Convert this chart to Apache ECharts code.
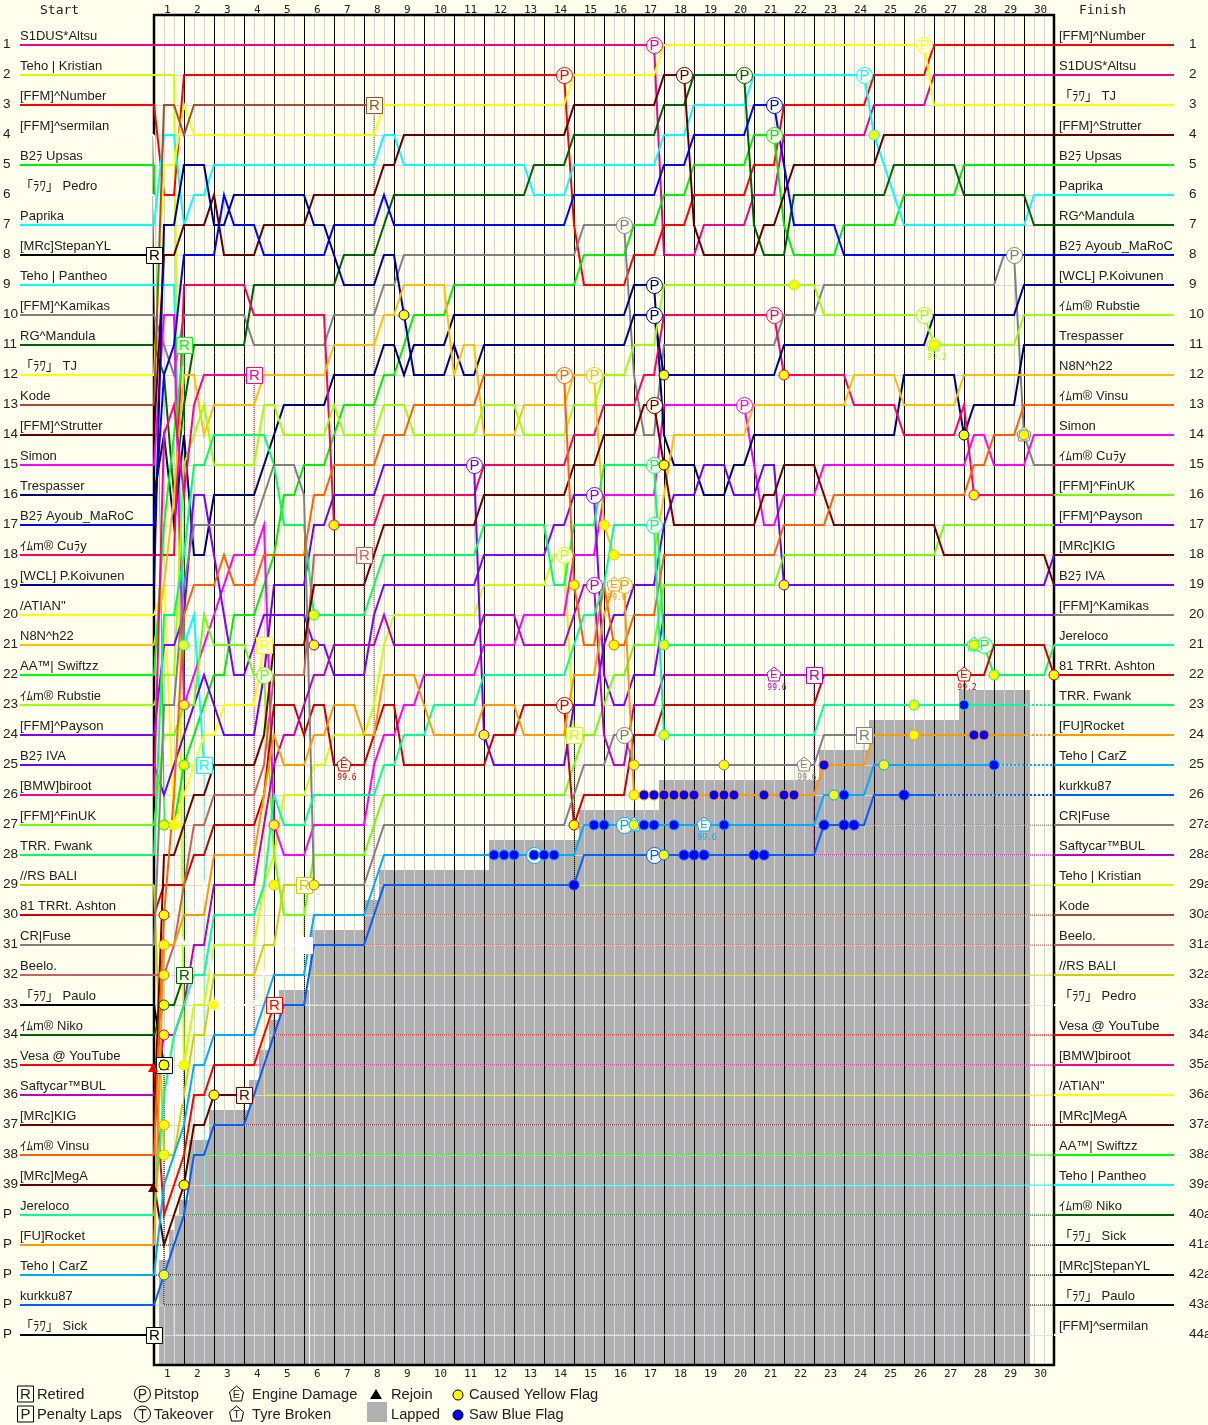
<!DOCTYPE html>
<html><head><meta charset="utf-8">
<style>html,body{margin:0;padding:0;background:#ffffee}#c{width:1208px;height:1425px}</style>
<script src="https://cdn.jsdelivr.net/npm/echarts@6/dist/echarts.min.js"></script>
</head><body><div id="c"></div>
<script>
// Position paths: [sector, position]. A position holds until the sector before the next entry.
const altsu=[[0,1],[51,8],[55,7],[60,6],[63,4],[72,3],[78,2],[90,2]];
const number=[[0,3],[1,6],[3,2],[42,7],[43,9],[48,8],[51,7],[54,6],[60,5],[63,3],[72,2],[78,1],[90,1]];
const tj=[[0,12],[1,5],[3,3],[4,4],[23,3],[42,2],[51,1],[78,3],[90,3]];
const kode=[[0,13],[1,3],[3,4],[4,3],[22,3]];
const strutter=[[0,14],[1,8],[3,7],[6,6],[7,8],[11,7],[16,6],[23,5],[25,4],[42,3],[51,2],[54,7],[55,8],[61,7],[63,6],[64,5],[73,4],[90,4]];
const upsas=[[0,5],[1,27],[3,25],[4,24],[5,23],[6,22],[8,20],[11,19],[12,18],[13,16],[15,15],[18,14],[19,13],[23,12],[25,11],[26,10],[30,9],[43,8],[48,7],[51,6],[54,5],[60,4],[63,7],[64,8],[69,7],[75,6],[81,5],[90,5]];
const paprika=[[0,7],[1,4],[3,7],[4,6],[6,5],[23,4],[25,5],[38,6],[42,5],[51,4],[54,3],[60,2],[72,4],[73,5],[74,6],[75,7],[88,6],[90,6]];
const pantheo=[[0,9],[3,21],[4,20],[5,25]];
const koivunen=[[0,19],[1,7],[3,5],[6,7],[8,6],[16,7],[18,8],[19,9],[23,8],[25,10],[26,12],[30,11],[31,12],[33,11],[48,10],[51,12],[63,11],[78,10],[87,9],[90,9]];
const trespasser=[[0,16],[1,14],[2,17],[3,14],[4,18],[6,16],[11,15],[12,14],[13,13],[18,12],[23,11],[25,12],[26,11],[30,10],[48,9],[51,14],[52,15],[55,16],[58,15],[60,14],[75,12],[81,14],[82,13],[87,11],[90,11]];
const ayoub=[[0,17],[1,12],[2,11],[3,8],[7,6],[8,7],[11,8],[18,7],[23,6],[24,7],[42,6],[51,5],[54,4],[60,3],[63,5],[64,7],[69,8],[90,8]];
const mandula=[[0,11],[1,12],[2,16],[3,13],[4,11],[10,9],[19,8],[23,7],[24,6],[38,5],[42,4],[51,3],[54,2],[60,7],[61,8],[64,6],[74,5],[81,6],[88,7],[90,7]];
const kamikas=[[0,10],[1,11],[2,12],[3,10],[10,11],[18,10],[23,9],[25,8],[43,7],[48,12],[49,14],[51,11],[63,10],[67,9],[85,8],[87,14],[88,15],[90,15]];
const cury=[[0,18],[3,9],[10,10],[18,17],[23,16],[33,15],[42,14],[45,13],[49,12],[51,10],[63,12],[70,13],[75,14],[81,13],[82,16],[90,16]];
const simon=[[0,15],[1,10],[3,23],[4,22],[5,21],[6,20],[7,19],[8,18],[11,17],[12,27],[13,28],[16,27],[22,25],[23,24],[25,23],[27,22],[33,21],[37,20],[42,18],[45,16],[51,13],[60,15],[61,17],[63,16],[67,15],[82,14],[84,15],[88,14],[90,14]];
const fwank=[[0,28],[1,20],[3,18],[4,15],[6,14],[12,15],[13,17],[16,20],[22,19],[23,18],[33,17],[40,19],[42,17],[45,15],[51,21],[84,22],[90,21]];
const jereloco=[[0,40],[1,36],[2,34],[3,33],[4,32],[6,30],[11,29],[12,26],[13,27],[16,26],[23,25],[25,24],[28,23],[33,22],[42,21],[43,20],[45,19],[46,17],[51,24],[67,23],[87,23]];
const n8n=[[0,21],[1,19],[2,16],[3,12],[5,14],[6,13],[11,12],[18,11],[23,10],[25,9],[30,12],[31,11],[33,14],[37,13],[42,12],[45,17],[46,18],[51,16],[52,14],[60,13],[70,12],[75,13],[81,12],[90,12]];
const vinsu=[[0,38],[1,30],[2,26],[3,20],[4,19],[7,18],[8,19],[11,18],[16,16],[18,15],[23,14],[26,13],[33,12],[42,19],[43,21],[45,19],[46,21],[48,20],[51,18],[63,17],[68,16],[82,15],[84,14],[87,13],[90,13]];
const rubstie=[[0,23],[1,22],[3,15],[4,14],[5,13],[6,15],[11,13],[13,14],[18,13],[19,14],[23,13],[26,14],[33,13],[37,14],[42,13],[45,12],[48,11],[51,9],[67,10],[78,11],[87,10],[90,10]];
const finuk=[[0,27],[1,24],[3,23],[5,20],[6,21],[10,22],[12,28],[13,30],[16,28],[22,27],[23,26],[42,25],[43,24],[45,23],[46,22],[48,21],[51,19],[63,18],[79,17],[90,17]];
const payson=[[0,24],[1,21],[3,20],[4,16],[6,18],[7,20],[8,22],[10,21],[11,20],[16,21],[18,22],[22,20],[23,19],[33,18],[40,17],[42,16],[45,22],[46,23],[48,22],[51,20],[90,20]];
const iva=[[0,25],[1,26],[2,25],[3,24],[4,23],[5,22],[6,23],[7,24],[11,22],[12,19],[16,17],[18,16],[23,15],[33,24],[34,25],[42,23],[45,21],[46,20],[48,19],[51,17],[52,16],[55,15],[58,16],[61,15],[63,19],[90,18]];
const saftycar=[[0,36],[1,34],[3,33],[4,31],[6,29],[11,27],[12,25],[13,24],[15,23],[16,22],[18,21],[23,20],[24,21],[33,20],[37,21],[42,20],[43,19],[45,24],[46,25],[48,23],[51,22],[66,22]];
const kristian=[[0,2],[3,35],[4,33],[6,31],[11,29],[12,28],[13,26],[16,25],[18,24],[22,23],[23,21],[24,20],[33,19],[40,18],[42,24]];
const kig=[[0,37],[1,28],[3,27],[4,26],[6,25],[11,24],[12,21],[16,19],[22,18],[23,17],[33,16],[42,15],[45,14],[49,13],[51,15],[52,17],[61,16],[63,15],[67,16],[68,17],[79,18],[90,19]];
const ashton=[[0,30],[1,29],[4,28],[6,27],[11,26],[12,23],[15,24],[16,23],[18,25],[22,24],[23,23],[25,25],[34,24],[37,23],[42,27],[43,26],[48,24],[51,23],[67,22],[84,21],[90,22]];
const rocket=[[0,41],[1,31],[3,30],[6,28],[11,26],[12,24],[13,25],[16,24],[18,23],[21,24],[23,22],[27,23],[28,24],[33,23],[37,24],[42,22],[45,20],[46,19],[48,26],[67,25],[72,24],[87,24]];
const fuse=[[0,31],[1,23],[3,19],[4,17],[11,16],[12,15],[15,16],[16,29],[22,28],[23,27],[42,26],[43,25],[46,24],[48,25],[67,24],[71,24]];
const beelo=[[0,32],[2,31],[3,29],[4,27],[6,26],[11,25],[12,22],[16,18],[21,18]];
const atian=[[0,20],[1,19],[2,27],[3,26],[4,25],[5,24],[7,23],[11,21]];
const bali=[[0,29],[1,38],[3,36],[4,34],[6,32],[11,31],[13,29],[15,29]];
const pedro=[[0,6],[1,30],[3,31],[4,30],[5,29],[6,33],[11,32],[12,31],[15,31]];
const sermilan=[[0,4],[1,25],[2,36]];
const paulo=[[0,33],[1,35]];
const niko=[[0,34],[1,33],[3,32]];
const vesa=[[0,35],[1,40],[2,39],[3,38],[4,36],[6,35],[11,34],[12,33]];
const mega=[[0,39],[1,41],[2,40],[3,39],[4,37],[6,36],[9,36]];
const biroot=[[0,26],[1,14],[2,13],[3,16],[4,13],[5,12],[10,12]];
const swiftzz=[[0,22],[1,17],[2,14],[3,11]];
const carz=[[0,42],[1,39],[2,38],[3,37],[4,35],[6,34],[11,33],[12,32],[16,30],[22,29],[23,28],[43,27],[67,26],[72,25],[84,25]];
const kurkku=[[0,43],[1,42],[2,41],[3,40],[4,38],[6,37],[10,36],[11,35],[12,34],[13,33],[16,31],[22,30],[23,29],[43,28],[67,27],[72,26],[78,26]];
const stepan=[[0,8]];
const sick=[[0,44]];

const gridStart=[
 ['S1DUS*Altsu',altsu,'#f0008c'],['Teho | Kristian',kristian,'#ccff00'],['[FFM]^Number',number,'#ff0000'],['[FFM]^sermilan',sermilan,'#ffffff'],
 ['B2ﾗ Upsas',upsas,'#00ee00'],['「ﾗﾜ」 Pedro',pedro,'#ffffff'],['Paprika',paprika,'#00ffff'],['[MRc]StepanYL',stepan,'#000000'],
 ['Teho | Pantheo',pantheo,'#00ffff'],['[FFM]^Kamikas',kamikas,'#808080'],['RG^Mandula',mandula,'#006000'],['「ﾗﾜ」 TJ',tj,'#ffff00'],
 ['Kode',kode,'#a0502d'],['[FFM]^Strutter',strutter,'#600000'],['Simon',simon,'#ff00ff'],['Trespasser',trespasser,'#000070'],
 ['B2ﾗ Ayoub_MaRoC',ayoub,'#0000ff'],['ｲﾑm® Cuﾗy',cury,'#ff0060'],['[WCL] P.Koivunen',koivunen,'#000090'],['/ATIAN"',atian,'#ffff00'],
 ['N8N^h22',n8n,'#ffc000'],['AA™| Swiftzz',swiftzz,'#00ff00'],['ｲﾑm® Rubstie',rubstie,'#a0ff00'],['[FFM]^Payson',payson,'#8000ff'],
 ['B2ﾗ IVA',iva,'#7000f0'],['[BMW]biroot',biroot,'#ff0090'],['[FFM]^FinUK',finuk,'#70ff00'],['TRR. Fwank',fwank,'#00ff60'],
 ['//RS BALI',bali,'#d0d000'],['81 TRRt. Ashton',ashton,'#cc0000'],['CR|Fuse',fuse,'#808080'],['Beelo.',beelo,'#c86060'],
 ['「ﾗﾜ」 Paulo',paulo,'#000000'],['ｲﾑm® Niko',niko,'#006000'],['Vesa @ YouTube',vesa,'#ff0000'],['Saftycar™BUL',saftycar,'#c000c0'],
 ['[MRc]KIG',kig,'#700000'],['ｲﾑm® Vinsu',vinsu,'#ff6000'],['[MRc]MegA',mega,'#600000'],['Jereloco',jereloco,'#00ff99'],
 ['[FU]Rocket',rocket,'#ff9900'],['Teho | CarZ',carz,'#00aaff'],['kurkku87',kurkku,'#0060ff'],['「ﾗﾜ」 Sick',sick,'#000000']];
const finishNames=['[FFM]^Number','S1DUS*Altsu','「ﾗﾜ」 TJ','[FFM]^Strutter','B2ﾗ Upsas','Paprika','RG^Mandula','B2ﾗ Ayoub_MaRoC','[WCL] P.Koivunen','ｲﾑm® Rubstie','Trespasser','N8N^h22','ｲﾑm® Vinsu','Simon','ｲﾑm® Cuﾗy','[FFM]^FinUK','[FFM]^Payson','[MRc]KIG','B2ﾗ IVA','[FFM]^Kamikas','Jereloco','81 TRRt. Ashton','TRR. Fwank','[FU]Rocket','Teho | CarZ','kurkku87','CR|Fuse','Saftycar™BUL','Teho | Kristian','Kode','Beelo.','//RS BALI','「ﾗﾜ」 Pedro','Vesa @ YouTube','[BMW]biroot','/ATIAN"','[MRc]MegA','AA™| Swiftzz','Teho | Pantheo','ｲﾑm® Niko','「ﾗﾜ」 Sick','[MRc]StepanYL','「ﾗﾜ」 Paulo','[FFM]^sermilan'];
const startRowLabels=['1','2','3','4','5','6','7','8','9','10','11','12','13','14','15','16','17','18','19','20','21','22','23','24','25','26','27','28','29','30','31','32','33','34','35','36','37','38','39','P','P','P','P','P'];
const finishRowLabels=['1','2','3','4','5','6','7','8','9','10','11','12','13','14','15','16','17','18','19','20','21','22','23','24','25','26','27a','28a','29a','30a','31a','32a','33a','34a','35a','36a','37a','38a','39a','40a','41a','42a','43a','44a'];
const lapLabels=['1','2','3','4','5','6','7','8','9','10','11','12','13','14','15','16','17','18','19','20','21','22','23','24','25','26','27','28','29','30'];

// Lapped area steps
const lappedFrom=[0.5,1.5,2,2.5,3.5,5.5,9.5,10.5,11.5,12.5,15.6,21,22.5,33.5,42.5,50.5,66.5,71.5,80.5];
const lappedTo  =[1.5,2,2.5,3.5,5.5,9.5,10.5,11.5,12.5,15.5,21,22.5,33.5,42.5,50.5,66.5,71.5,80.5,87.6];
const lappedTop =[41.5,40.5,40,39.5,37.5,36.5,35.5,34.5,33.5,32.5,30.5,29.5,28.5,27.5,26.5,25.5,24.5,23.5,22.5];

// [driver path, sector, row shown, finish row]
const retired=[[kode,22,3,30],[stepan,0,8,42],[biroot,10,12,35],[swiftzz,3,11,38],[beelo,21,18,31],[atian,11,21,36],[bali,15,29,32],[pantheo,5,25,39],[niko,3,32,40],[vesa,12,33,34],[paulo,1,35,43],[mega,9,36,37],[sermilan,2,36,44],[pedro,15,31,33],[sick,0,44,41],[saftycar,66,22,28],[fuse,71,24,27],[kristian,42,24,29]];
const lappedTails=[[jereloco,87,23],[rocket,87,24],[carz,84,25],[kurkku,78,26]];
const pitstops=[[50,1,altsu],[41,2,number],[53,2,strutter],[59,2,mandula],[71,2,paprika],[77,1,tj],[62,3,ayoub],[62,4,upsas],[47,7,kamikas],[50,9,trespasser],[50,10,koivunen],[62,10,cury],[77,10,rubstie],[86,8,kamikas],[41,12,vinsu],[44,12,n8n],[50,13,kig],[59,13,simon],[32,15,iva],[50,15,fwank],[44,16,payson],[50,17,jereloco],[41,18,kristian],[44,19,saftycar],[47,19,rocket],[41,23,ashton],[47,24,fuse],[47,27,carz],[50,28,kurkku],[38,28,carz],[83,21,fwank],[11,22,finuk]];
const engines=[[19,25,ashton,'99.6'],[62,22,saftycar,'99.6'],[46,19,rocket,'99.6'],[55,27,carz,'99.6'],[65,25,fuse,'99.6'],[81,22,ashton,'99.2']];
const tyres=[[48,27,carz,''],[82,21,fwank,''],[78,11,rubstie,'99.2'],[87,14,kamikas,'']];
const yellowFlags=[[1,30,ashton],[1,31,rocket],[1,32,beelo],[1,33,niko],[1,34,saftycar],[1,35,paulo],[1,37,rocket],[1,38,bali],[1,42,kurkku],[1,27,upsas],[2,27,atian],[3,21,pantheo],[3,23,simon],[3,25,upsas],[3,35,kristian],[3,39,mega],[6,33,pedro],[6,36,mega],[12,27,simon],[12,29,bali],[16,20,fwank],[16,21,payson],[16,29,fuse],[18,17,cury],[25,10,koivunen],[33,24,iva],[42,27,ashton],[42,19,vinsu],[45,17,n8n],[46,18,n8n],[46,21,vinsu],[48,25,fuse],[48,26,rocket],[48,27,carz],[51,12,koivunen],[51,15,kig],[51,21,fwank],[51,24,jereloco],[51,28,kurkku],[57,25,fuse],[63,12,cury],[64,9,rubstie],[63,19,iva],[68,26,carz],[72,4,paprika],[73,25,carz],[76,23,jereloco],[76,24,rocket],[78,11,rubstie],[81,14,trespasser],[82,16,cury],[82,21,fwank],[84,22,fwank],[87,14,kamikas],[90,22,ashton]];
const blueFlags=[[34,28,carz],[35,28,carz],[36,28,carz],[38,28,carz],[39,28,carz],[40,28,carz],[44,27,carz],[45,27,carz],[49,27,carz],[50,27,carz],[52,27,carz],[57,27,carz],[49,26,rocket],[50,26,rocket],[51,26,rocket],[52,26,rocket],[53,26,rocket],[54,26,rocket],[56,26,rocket],[57,26,rocket],[58,26,rocket],[61,26,rocket],[63,26,rocket],[64,26,rocket],[67,25,rocket],[53,28,kurkku],[54,28,kurkku],[55,28,kurkku],[60,28,kurkku],[61,28,kurkku],[42,29,kurkku],[69,26,carz],[67,27,kurkku],[69,27,kurkku],[70,27,kurkku],[75,26,kurkku],[81,23,jereloco],[82,24,rocket],[83,24,rocket],[84,25,carz]];
const rejoins=[[0,35,vesa],[0,39,mega]];

const colorOf=new Map(gridStart.map(d=>[d[1],d[2]]));
const colorByName=new Map(gridStart.map(d=>[d[0],d[2]]));
const SANS='"Liberation Sans","Noto Sans CJK JP",sans-serif', MONO='"DejaVu Sans Mono",monospace', BG='#ffffee';

function expand(path){const out=[];path.forEach(([k,p],i)=>{if(i>0){const [pk,pp]=path[i-1];if(k-1>pk)out.push([k-1,pp]);}out.push([k,p]);});return out;}
function custom(items,draw,z){return {type:'custom',coordinateSystem:'cartesian2d',silent:true,clip:false,z,data:items.map(d=>[d[0],d[1]]),
  renderItem:(p,api)=>draw(items[p.dataIndex],q=>api.coord(q))};}
const series=[];

// lapped area
series.push(custom(lappedFrom.map((f,i)=>[f,lappedTop[i],lappedTo[i]]),(d,c)=>{const a=c([d[0],d[1]]),b=c([d[2],45]);
  return {type:'rect',shape:{x:a[0],y:a[1],width:b[0]-a[0],height:b[1]-a[1]},style:{fill:'#b0b0b0'}};},1));
// grid
const sectors=[];for(let k=1;k<90;k++)if(k%3)sectors.push([k,0]);
const laps=lapLabels.map((l,i)=>[3*(i+1),0]).filter(d=>d[0]<90);
const rows=startRowLabels.map((l,i)=>[0,i+1]);
const ln=(a,b,col,w)=>({type:'line',shape:{x1:a[0],y1:a[1],x2:b[0],y2:b[1]},style:{stroke:col,lineWidth:w}});
series.push(custom(rows,(d,c)=>{const a=c([0,d[1]]),b=c([90,d[1]]);return ln([a[0],a[1]+.5],[b[0],b[1]+.5],'#d8d8d8',1);},2));
series.push(custom(sectors,(d,c)=>{const a=c([d[0],0]),b=c([d[0],45]);return ln([a[0]+.5,a[1]],[b[0]+.5,b[1]],'#d4d4d8',1);},2));
series.push(custom(laps,(d,c)=>{const a=c([d[0],0]),b=c([d[0],45]);return ln([a[0]+.5,a[1]],[b[0]+.5,b[1]],'#000',1);},3));
series.push(custom([[0,0]],(d,c)=>{const a=c([0,0]),b=c([90,45]);return {type:'rect',shape:{x:a[0],y:a[1],width:b[0]-a[0],height:b[1]-a[1]},style:{fill:'none',stroke:'#000',lineWidth:2.5}};},4));

const lineS=(data,color,width,type,z)=>({type:'line',data,silent:true,showSymbol:false,symbol:'none',z,lineStyle:{color,width,type:type||'solid',cap:'butt',join:'miter'},itemStyle:{color}});
// retirement traces
retired.forEach(r=>series.push(lineS([[r[1],r[2]],[r[1],r[3]],[90,r[3]]],colorOf.get(r[0]),1,'dotted',5)));
lappedTails.forEach(t=>series.push(lineS([[t[1],t[2]],[90,t[2]]],colorOf.get(t[0]),2,'dotted',5)));
// driver traces and stubs
gridStart.forEach((d,i)=>{
  series.push(lineS([[-13.4,i+1],[0,i+1]],d[2],2,'solid',6));
  if(d[1].length>1)series.push(lineS(expand(d[1]),d[2],2,'solid',6));
});
finishNames.forEach((n,i)=>series.push(lineS([[90,i+1],[102,i+1]],colorByName.get(n),2,'solid',6)));

// markers
const circle=(c,r,fill,stroke,w)=>({type:'circle',shape:{cx:c[0],cy:c[1],r},style:{fill,stroke,lineWidth:w||1}});
const letter=(c,t,col,size)=>({type:'text',style:{x:c[0],y:c[1],text:t,fill:col,font:size+'px '+SANS,align:'center',verticalAlign:'middle'}});
series.push(custom(yellowFlags,(d,c)=>circle(c([d[0],d[1]]),5,'#ffff00',colorOf.get(d[2])),11));
series.push(custom(blueFlags,(d,c)=>circle(c([d[0],d[1]]),5,'#0000ff',colorOf.get(d[2])),11));
series.push(custom(pitstops,(d,c)=>{const p=c([d[0],d[1]]),col=colorOf.get(d[2]);
  return {type:'group',children:[circle([p[0]+.5,p[1]+.5],8,BG,col),letter([p[0]+.5,p[1]+1],'P',col,15)]};},10));
series.push(custom(retired,(d,c)=>{const p=c([d[1],d[2]]),col=colorOf.get(d[0]);
  const stroke=col==='#ffffff'?'#ffffff':col;
  return {type:'group',children:[{type:'rect',shape:{x:p[0]-7.5,y:p[1]-7.5,width:16,height:16},style:{fill:col==='#ffffff'?'#ffffff':BG,stroke,lineWidth:1}},letter([p[0]+.5,p[1]+1],'R',col,15)]};},10));
const penta=(p,col)=>({type:'polygon',shape:{points:[[p[0],p[1]-8],[p[0]+7,p[1]-2],[p[0]+5,p[1]+6],[p[0]-5,p[1]+6],[p[0]-7,p[1]-2]]},style:{fill:BG,stroke:col,lineWidth:1}});
const noteText=(p,t,col)=>({type:'text',style:{x:p[0]+3,y:p[1]+13,text:t,fill:col,font:'8px '+MONO,align:'center',verticalAlign:'middle'}});
series.push(custom(engines,(d,c)=>{const p=c([d[0],d[1]]),col=colorOf.get(d[2]);
  return {type:'group',children:[penta(p,col),letter([p[0],p[1]],'E',col,11),noteText(p,d[3],col)]};},10));
series.push(custom(tyres,(d,c)=>{const p=c([d[0],d[1]]),col=colorOf.get(d[2]);
  const ch=[penta(p,col)];if(d[3])ch.push(noteText(p,d[3],col));return {type:'group',children:ch};},9));
series.push(custom(rejoins,(d,c)=>{const p=c([d[0],d[1]]),col=colorOf.get(d[2]);
  return {type:'polygon',shape:{points:[[p[0]-1,p[1]-2],[p[0]+4,p[1]+7],[p[0]-6,p[1]+7]]},style:{fill:col}};},10));

// texts (positions in sector / row units)
const texts=[];
const T=(k,row,text,font,align,vAlign,fill)=>texts.push([k,row,text,font,align||'left',vAlign||'middle',fill||'#222']);
gridStart.forEach((d,i)=>{T(-13.4,i+1-0.067,d[0],'13px '+SANS,'left','bottom');T(-15.1,i+1-0.04,startRowLabels[i],'13.5px '+SANS);});
finishNames.forEach((n,i)=>{T(90.5,i+1-0.067,n,'13px '+SANS,'left','bottom');T(103.5,i+1-0.04,finishRowLabels[i],'13.5px '+SANS);});
lapLabels.forEach((l,i)=>{T(1+3*i,-0.17,l,'11px '+MONO);T(1+3*i,45.3,l,'11px '+MONO);});
T(-11.4,-0.13,'Start','13px '+MONO);T(92.5,-0.13,'Finish','13px '+MONO);
series.push(custom(texts,(d,c)=>{const p=c([d[0],d[1]]);return {type:'text',style:{x:p[0],y:p[1],text:d[2],font:d[3],align:d[4],verticalAlign:d[5],fill:d[6]}};},12));

// legend
const LF='14.7px '+SANS, LC='#222';
const lt=(x,y,t)=>({type:'text',x,y:y+1,style:{text:t,font:LF,fill:LC,verticalAlign:'middle'}});
const box=(y,t)=>[{type:'rect',shape:{x:17.5,y:y-8,width:16,height:16},style:{fill:BG,stroke:'#000',lineWidth:1}},{type:'text',x:25.5,y:y+1,style:{text:t,font:'15px '+SANS,fill:'#222',align:'center',verticalAlign:'middle'}}];
const circ=(y,t)=>[{type:'circle',shape:{cx:142.5,cy:y,r:8},style:{fill:BG,stroke:'#000',lineWidth:1}},{type:'text',x:142.5,y:y+1,style:{text:t,font:'14px '+SANS,fill:'#222',align:'center',verticalAlign:'middle'}}];
const pent=(y,t)=>{const x=236.5;return [{type:'polygon',shape:{points:[[x,y-8],[x+7,y-2],[x+5,y+7],[x-5,y+7],[x-7,y-2]]},style:{fill:BG,stroke:'#000',lineWidth:1}},{type:'text',x,y:y+1,style:{text:t,font:'11px '+SANS,fill:'#222',align:'center',verticalAlign:'middle'}}];};
const legend=[...box(1394,'R'),...box(1414,'P'),lt(37,1394,'Retired'),lt(37,1414,'Penalty Laps'),
 ...circ(1394,'P'),...circ(1414,'T'),lt(154,1394,'Pitstop'),lt(154,1414,'Takeover'),
 ...pent(1394,'E'),...pent(1414,'T'),lt(252,1394,'Engine Damage'),lt(252,1414,'Tyre Broken'),
 {type:'polygon',shape:{points:[[376,1389],[382,1399],[370,1399]]},style:{fill:'#000'}},lt(391,1394,'Rejoin'),
 {type:'rect',shape:{x:367,y:1402,width:20,height:20},style:{fill:'#b0b0b0'}},lt(391,1414,'Lapped'),
 {type:'circle',shape:{cx:458,cy:1395,r:5},style:{fill:'#ffff00',stroke:'#000',lineWidth:1}},lt(469,1394,'Caused Yellow Flag'),
 {type:'circle',shape:{cx:458,cy:1415,r:5},style:{fill:'#0000ff',stroke:'#000',lineWidth:1}},lt(469,1414,'Saw Blue Flag')];

const chart=echarts.init(document.getElementById('c'),null,{renderer:'canvas'});
chart.setOption({animation:false,backgroundColor:BG,tooltip:{show:false},legend:{show:false},
 grid:{left:0,right:0,top:0,bottom:0,containLabel:false},
 xAxis:{type:'value',min:-15.4,max:105.4,show:false,scale:true,splitLine:{show:false}},
 yAxis:{type:'value',min:-0.5,max:47,inverse:true,show:false,scale:true,splitLine:{show:false}},
 graphic:{elements:legend.map(e=>Object.assign({silent:true,z:20},e))},
 series});
</script></body></html>
